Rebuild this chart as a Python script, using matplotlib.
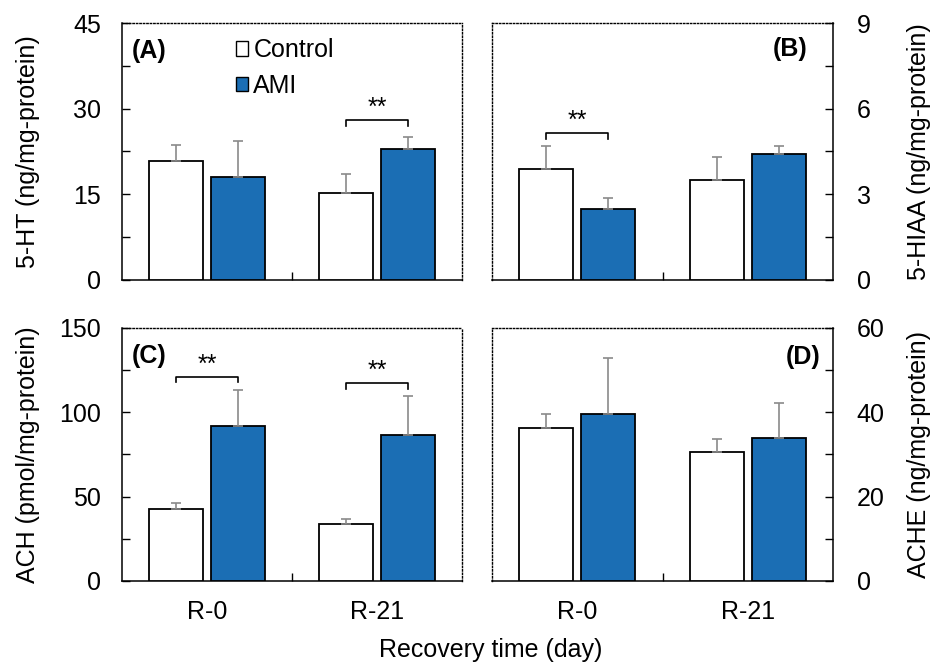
import numpy as np
import matplotlib
matplotlib.use('Agg')
import matplotlib.pyplot as plt
from matplotlib.patches import Patch
from matplotlib.ticker import MultipleLocator, FixedLocator

plt.rcParams['font.family'] = ['Liberation Sans', 'DejaVu Sans']

groups = ['R-0', 'R-21']

# 5-HT (ng/mg-protein)
ht_ctrl = [20.8, 15.2]
ht_ctrl_err = [2.9, 3.4]
ht_ami = [18.0, 23.0]
ht_ami_err = [6.3, 2.0]

# 5-HIAA (ng/mg-protein)
hiaa_ctrl = [3.9, 3.5]
hiaa_ctrl_err = [0.8, 0.8]
hiaa_ami = [2.5, 4.4]
hiaa_ami_err = [0.36, 0.28]

# ACH (pmol/mg-protein)
ach_ctrl = [42.7, 33.8]
ach_ctrl_err = [3.7, 3.1]
ach_ami = [91.8, 86.7]
ach_ami_err = [21.5, 22.9]

# ACHE (ng/mg-protein)
ache_ctrl = [36.3, 30.6]
ache_ctrl_err = [3.4, 3.0]
ache_ami = [39.7, 33.9]
ache_ami_err = [13.1, 8.2]

blue = '#1B6EB4'
err_col = '#8a8a8a'
fs = 18

fig = plt.figure(figsize=(9.32, 6.63), dpi=100)

# axes positions (figure fraction)
axA = fig.add_axes([0.1309, 0.5777, 0.3648, 0.3876])
axB = fig.add_axes([0.5279, 0.5777, 0.3659, 0.3876])
axC = fig.add_axes([0.1309, 0.1237, 0.3648, 0.3816])
axD = fig.add_axes([0.5279, 0.1237, 0.3659, 0.3816])

panels = [
    (axA, ht_ctrl, ht_ctrl_err, ht_ami, ht_ami_err, 45, 15, 'left', '5-HT (ng/mg-protein)', '(A)'),
    (axB, hiaa_ctrl, hiaa_ctrl_err, hiaa_ami, hiaa_ami_err, 9, 3, 'right', '5-HIAA (ng/mg-protein)', '(B)'),
    (axC, ach_ctrl, ach_ctrl_err, ach_ami, ach_ami_err, 150, 50, 'left', 'ACH (pmol/mg-protein)', '(C)'),
    (axD, ache_ctrl, ache_ctrl_err, ache_ami, ache_ami_err, 60, 20, 'right', 'ACHE (ng/mg-protein)', '(D)'),
]

x = np.array([0.5, 1.5])
off = 0.182
w = 0.318

for ax, c, ce, a, ae, ymax, step, side, ylab, tag in panels:
    ekw = dict(ecolor=err_col, elinewidth=1.2, capsize=3.6, capthick=1.2)
    ax.bar(x - off, c, w, color='white', edgecolor='black', linewidth=1.3,
           yerr=[np.zeros(2), ce], error_kw=ekw, zorder=3)
    ax.bar(x + off, a, w, color=blue, edgecolor='black', linewidth=1.3,
           yerr=[np.zeros(2), ae], error_kw=ekw, zorder=3)
    ax.set_xlim(0, 2)
    ax.set_ylim(0, ymax)

    # spines
    for s in ax.spines.values():
        s.set_linewidth(1.1)
    dotted = ['top', 'right'] if side == 'left' else ['top', 'left']
    for s in dotted:
        ax.spines[s].set_linestyle((0, (1, 1.5)))
        ax.spines[s].set_linewidth(1.0)

    # y ticks
    ax.yaxis.set_major_locator(MultipleLocator(step))
    ax.yaxis.set_minor_locator(MultipleLocator(step / 2))
    if side == 'left':
        ax.tick_params(axis='y', which='both', direction='in', length=6, width=1,
                       left=True, right=False, labelsize=fs, pad=15)
    else:
        ax.yaxis.tick_right()
        ax.yaxis.set_label_position('right')
        ax.tick_params(axis='y', which='both', direction='in', length=6, width=1,
                       left=False, right=True, labelsize=fs, pad=17)

    # x ticks: labels at group centres, one small tick between groups
    ax.xaxis.set_major_locator(FixedLocator(x))
    ax.xaxis.set_minor_locator(FixedLocator([1.0]))
    ax.tick_params(axis='x', which='major', length=0, labelsize=fs, pad=14)
    ax.tick_params(axis='x', which='minor', direction='in', length=6, width=1)
    if ax in (axC, axD):
        ax.set_xticklabels(groups)
    else:
        ax.set_xticklabels([])

    ax.set_ylabel(ylab, fontsize=fs)
    if side == 'left':
        ax.yaxis.set_label_coords(-0.241, 0.5)
        ax.text(0.03, 0.89, tag, transform=ax.transAxes, fontsize=fs,
                fontweight='bold', va='center', ha='left')
    else:
        ax.yaxis.set_label_coords(1.217, 0.5)
        tx = 0.924 if ax is axB else 0.962
        ax.text(tx, 0.90 if ax is axB else 0.885, tag, transform=ax.transAxes,
                fontsize=fs, fontweight='bold', va='center', ha='right')


def bracket(ax, gi, y_lo, y_hi):
    x0 = x[gi] - off
    x1 = x[gi] + off
    ax.plot([x0, x0, x1, x1], [y_lo, y_hi, y_hi, y_lo], color='black', lw=1.2, zorder=4)
    ax.text((x0 + x1) / 2, y_hi, '**', ha='center', va='bottom', fontsize=18)


bracket(axA, 1, 27.0, 28.0)
bracket(axB, 0, 4.95, 5.15)
bracket(axC, 0, 117.7, 121.0)
bracket(axC, 1, 113.7, 117.5)

handles = [Patch(facecolor='white', edgecolor='black', linewidth=1.0, label='Control'),
           Patch(facecolor=blue, edgecolor='black', linewidth=1.0, label='AMI')]
axA.legend(handles=handles, loc='upper left', bbox_to_anchor=(0.335, 0.94),
           frameon=False, fontsize=fs, handlelength=0.5, handleheight=0.5,
           handletextpad=0.2, labelspacing=0.45, borderaxespad=0, borderpad=0)

fig.text(0.526, 0.0196, 'Recovery time (day)', ha='center', va='center', fontsize=fs)

fig.savefig('out.png', dpi=100)
